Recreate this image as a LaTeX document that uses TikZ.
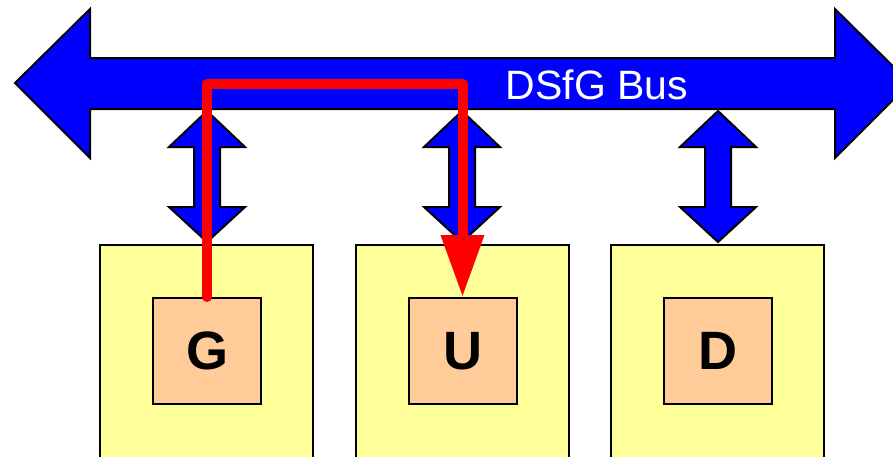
\documentclass[tikz,border=0pt]{standalone}
\usepackage{fontspec}
\setmainfont{Liberation Sans}
\usetikzlibrary{arrows.meta}

\definecolor{busblue}{HTML}{0000FF}
\definecolor{stationyellow}{HTML}{FFFF99}
\definecolor{unitorange}{HTML}{FFCC99}
\definecolor{pathred}{HTML}{FF0000}

\tikzset{
  busshape/.style={fill=busblue, draw=black, line width=2pt, line join=miter},
  station/.style={fill=stationyellow, draw=black, line width=2pt, rectangle,
    anchor=north, minimum width=213pt, minimum height=240pt, inner sep=0pt},
  unit/.style={fill=unitorange, draw=black, line width=2pt, rectangle,
    minimum width=108pt, minimum height=106pt, inner sep=0pt,
    font=\fontsize{54}{60}\selectfont\bfseries},
  buslabel/.style={text=white, font=\fontsize{41}{46}\selectfont, inner sep=0pt},
  datapath/.style={draw=pathred, line width=10pt, line cap=round, line join=round,
    -{Triangle[length=62pt,width=41pt]}},
  % vertical double arrow between the bus and a station
  vlink/.pic={
    \draw[busshape] (0,111) -- (38,147) -- (13,147) -- (13,207) -- (38,207)
      -- (0,242) -- (-38,207) -- (-13,207) -- (-13,147) -- (-38,147) -- cycle;
  }
}

\begin{document}
\begin{tikzpicture}[x=1pt,y=-1pt]
  \useasboundingbox (0,0) rectangle (893,456);
  \clip (0,0) rectangle (893,456);

  % the bus, a wide double-headed arrow running off the right edge
  \draw[busshape] (15,83) -- (90,9) -- (90,58) -- (835,58) -- (835,9)
    -- (910,83) -- (835,158) -- (835,109) -- (90,109) -- (90,158) -- cycle;
  \node[buslabel, anchor=base] (buslbl) at (597,99) {DSfG Bus};
  \coordinate (busaxis) at (0,84);

  % stations hanging off the bus
  \pic at (207,0) {vlink};
  \pic at (462,0) {vlink};
  \pic at (718,0) {vlink};

  \node[station] (stG) at (206.5,244) {};
  \node[station] (stU) at (462.5,244) {};
  \node[station] (stD) at (717.5,244) {};

  \node[unit] (G) at (207,351) {G};
  \node[unit] (U) at (462.5,351) {U};
  \node[unit] (D) at (718,351) {D};

  % data flow from G over the bus to U
  \draw[datapath] (G.north) -- (G.north |- busaxis) -- (U.north |- busaxis) -- (U.north);
\end{tikzpicture}
\end{document}
